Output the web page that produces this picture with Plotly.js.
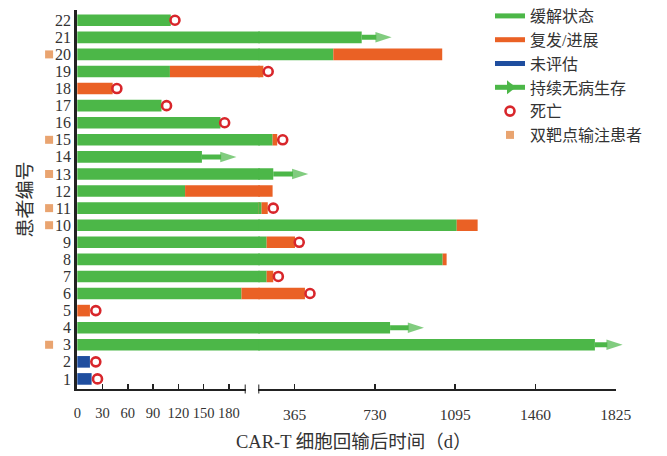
<!DOCTYPE html>
<html><head><meta charset="utf-8">
<script src="https://cdn.plot.ly/plotly-3.0.1.min.js"></script>
<style>html,body{margin:0;padding:0;background:#fff}#chart{width:667px;height:456px}</style>
</head><body><div id="chart"></div>
<script>
// ---- data (days after CAR-T infusion) ----
const patients      = [1,2,3,4,5,6,7,8,9,10,11,12,13,14,15,16,17,18,19,20,21,22];
const remissionEnd  = [0,0,1730,799,0,195,238,1038,238,1102,215,128,268,148,265,170,100,0,110,541,670,111];
const relapseEnd    = [null,null,null,null,15,412,268,1056,367,1197,243,265,null,null,286,null,null,42,223,1036,null,null];
const notEvalEnd    = [17,15,null,null,null,null,null,null,null,null,null,null,null,null,null,null,null,null,null,null,null,null];
const deathDay      = [24,22,null,null,22,435,291,null,386,null,268,null,null,null,311,175,106,47,245,null,null,116];
const dfsArrowEnd   = [null,null,1856,953,null,null,null,null,null,null,null,null,427,189,null,null,null,null,null,null,806,null];
const dualTarget    = [3,10,11,13,15,20];
const xTicksLeft    = [0,30,60,90,120,150,180];
const xTicksRight   = [365,730,1095,1460,1825];
const legendNames   = ['缓解状态','复发/进展','未评估','持续无病生存','死亡','双靶点输注患者'];
const breakDay = 200, maxDay = 1825;

// ---- style / geometry ----
const GREEN = '#4cb748', ORANGE = '#ea6125', BLUE = '#1f4e9f', RED = '#d8262b', TAN = '#e9a470';
const FONT = 'Liberation Serif, Noto Sans CJK SC, serif';
const W = 667, H = 456, ML = 40, MR = 17, MT = 10, MB = 67;
const PW = W - ML - MR, PH = H - MT - MB;
const PX_ORIGIN = 77.3, PX_BREAK1 = 245.7, PX_BREAK2 = 258.3, PX_END = 615.8;
const k1 = (PX_BREAK1 - PX_ORIGIN) / breakDay;          // px per day, left segment
const k2 = (PX_END - PX_BREAK2) / (maxDay - breakDay);  // px per day, right segment
const fx = px => (px - ML) / PW;
const BAR_W = 0.68;
const OVERLAP = 1.5; // px overlap of the two data panels to avoid a seam

const traces = [];
function barTrace(lengths, bases, color) {
  ['x3','x4'].forEach(ax => {
    traces.push({type:'bar', orientation:'h', y:patients, x:lengths, base:bases,
      width:BAR_W, marker:{color:color, line:{width:0}}, xaxis:ax, yaxis:'y',
      showlegend:false, hoverinfo:'skip'});
  });
}
barTrace(remissionEnd.map(v => v > 0 ? v : null), patients.map(() => 0), GREEN);
barTrace(relapseEnd.map((v,i) => v == null ? null : v - remissionEnd[i]), remissionEnd, ORANGE);
barTrace(notEvalEnd, patients.map(() => 0), BLUE);

// arrows (continuing disease-free survival)
patients.forEach((p,i) => {
  if (dfsArrowEnd[i] == null) return;
  const start = remissionEnd[i];
  traces.push({type:'scatter', mode:'lines+markers', x:[start, dfsArrowEnd[i]], y:[p,p],
    xaxis: start >= breakDay ? 'x4' : 'x3', yaxis:'y', cliponaxis:false,
    line:{color:GREEN, width:5},
    marker:{symbol:'arrow', angleref:'previous', size:[0,17], color:GREEN, line:{width:0}},
    showlegend:false, hoverinfo:'skip'});
});

// deaths
['x3','x4'].forEach(ax => {
  const xs = [], ys = [];
  patients.forEach((p,i) => {
    const d = deathDay[i];
    if (d == null) return;
    if ((ax === 'x3') === (d <= breakDay)) { xs.push(d); ys.push(p); }
  });
  traces.push({type:'scatter', mode:'markers', x:xs, y:ys, xaxis:ax, yaxis:'y', cliponaxis:false,
    marker:{symbol:'circle-open', size:9, color:RED, line:{width:2.6, color:RED}},
    showlegend:false, hoverinfo:'skip'});
});

// dual-target squares left of the tick labels
const squareOffsetDays = -33.5;
traces.push({type:'scatter', mode:'markers', x:dualTarget.map(() => squareOffsetDays), y:dualTarget,
  xaxis:'x3', yaxis:'y', cliponaxis:false,
  marker:{symbol:'square', size:8, color:TAN}, showlegend:false, hoverinfo:'skip'});

// legend entries (and anchors for the visible axes)
const lg = (name, extra, i) => Object.assign({type:'scatter', x:[null], y:[null], name:name,
  legendgroup:'g'+i, xaxis:'x', yaxis:'y', hoverinfo:'skip'}, extra);
traces.push(lg(legendNames[0], {mode:'lines', line:{color:GREEN, width:5}}, 0));
traces.push(lg(legendNames[1], {mode:'lines', line:{color:ORANGE, width:5}}, 1));
traces.push(lg(legendNames[2], {mode:'lines', line:{color:BLUE, width:5}}, 2));
traces.push(lg(legendNames[3], {mode:'lines+markers', line:{color:GREEN, width:5},
  marker:{symbol:'triangle-right', size:12, color:GREEN}}, 3));
traces.push(lg(legendNames[4], {mode:'markers', marker:{symbol:'circle-open', size:9, color:RED, line:{width:2.6, color:RED}}}, 4));
traces.push(lg(legendNames[5], {mode:'markers', marker:{symbol:'square', size:8, color:TAN}}, 5));
traces.push({type:'scatter', mode:'markers', x:[null], y:[null], xaxis:'x2', yaxis:'y', showlegend:false, hoverinfo:'skip'});

const tickAxis = (domain, range, vals, fs) => ({
  domain:domain, range:range, anchor:'y', showgrid:false, zeroline:false, fixedrange:true,
  tickmode:'array', tickvals:vals, ticktext:vals.map(String),
  tickfont:{family:FONT, size:fs, color:'#333'},
  showline:true, linecolor:'#222', linewidth:2,
  ticks:'inside', ticklen:5, tickwidth:1.5, tickcolor:'#222', ticklabelstandoff:10});

const layout = {
  width:W, height:H, margin:{l:ML, r:MR, t:MT, b:MB, autoexpand:false},
  paper_bgcolor:'#fff', plot_bgcolor:'rgba(0,0,0,0)',
  barmode:'overlay', showlegend:true,
  font:{family:FONT, color:'#333'},
  xaxis:  tickAxis([fx(PX_ORIGIN), fx(PX_BREAK1)], [0, breakDay], xTicksLeft, 14.5),
  xaxis2: tickAxis([fx(PX_BREAK2), fx(PX_END)], [breakDay, maxDay], xTicksRight, 15.5),
  xaxis3: {domain:[0, fx(PX_BREAK2 + OVERLAP)],
           range:[-(PX_ORIGIN - ML) / k1, (PX_BREAK2 + OVERLAP - PX_ORIGIN) / k1],
           anchor:'y', visible:false, fixedrange:true},
  xaxis4: {domain:[fx(PX_BREAK2), 1], range:[breakDay, breakDay + (W - MR - PX_BREAK2) / k2],
           anchor:'y', visible:false, fixedrange:true},
  yaxis: {domain:[0,1], range:[0.41,22.6], anchor:'x', showgrid:false, zeroline:false, fixedrange:true,
    tickmode:'array', tickvals:patients, ticktext:patients.map(String),
    tickfont:{family:FONT, size:16, color:'#333'},
    showline:true, linecolor:'#222', linewidth:3, ticks:'',
    title:{text:'患者编号', font:{family:FONT, size:19, color:'#333'}, standoff:18}},
  legend:{x:fx(490), y:1+11/PH, xanchor:'left', yanchor:'top', bgcolor:'rgba(0,0,0,0)',
    font:{family:FONT, size:16, color:'#333'}, tracegroupgap:0, itemwidth:30},
  shapes:[
    {type:'line', xref:'x', yref:'paper', x0:breakDay, x1:breakDay, y0:-4.5/PH, y1:4.5/PH, line:{color:'#222', width:2}},
    {type:'line', xref:'x2', yref:'paper', x0:breakDay, x1:breakDay, y0:-4.5/PH, y1:4.5/PH, line:{color:'#222', width:2}}
  ],
  annotations:[
    {text:'CAR-T 细胞回输后时间（d）', xref:'paper', yref:'paper', x:fx(354), y:(389-442)/PH,
     xanchor:'center', yanchor:'middle', showarrow:false, font:{family:FONT, size:18.5, color:'#333'}}
  ]
};
Plotly.newPlot('chart', traces, layout, {displayModeBar:false, staticPlot:true});
</script>
</body></html>
